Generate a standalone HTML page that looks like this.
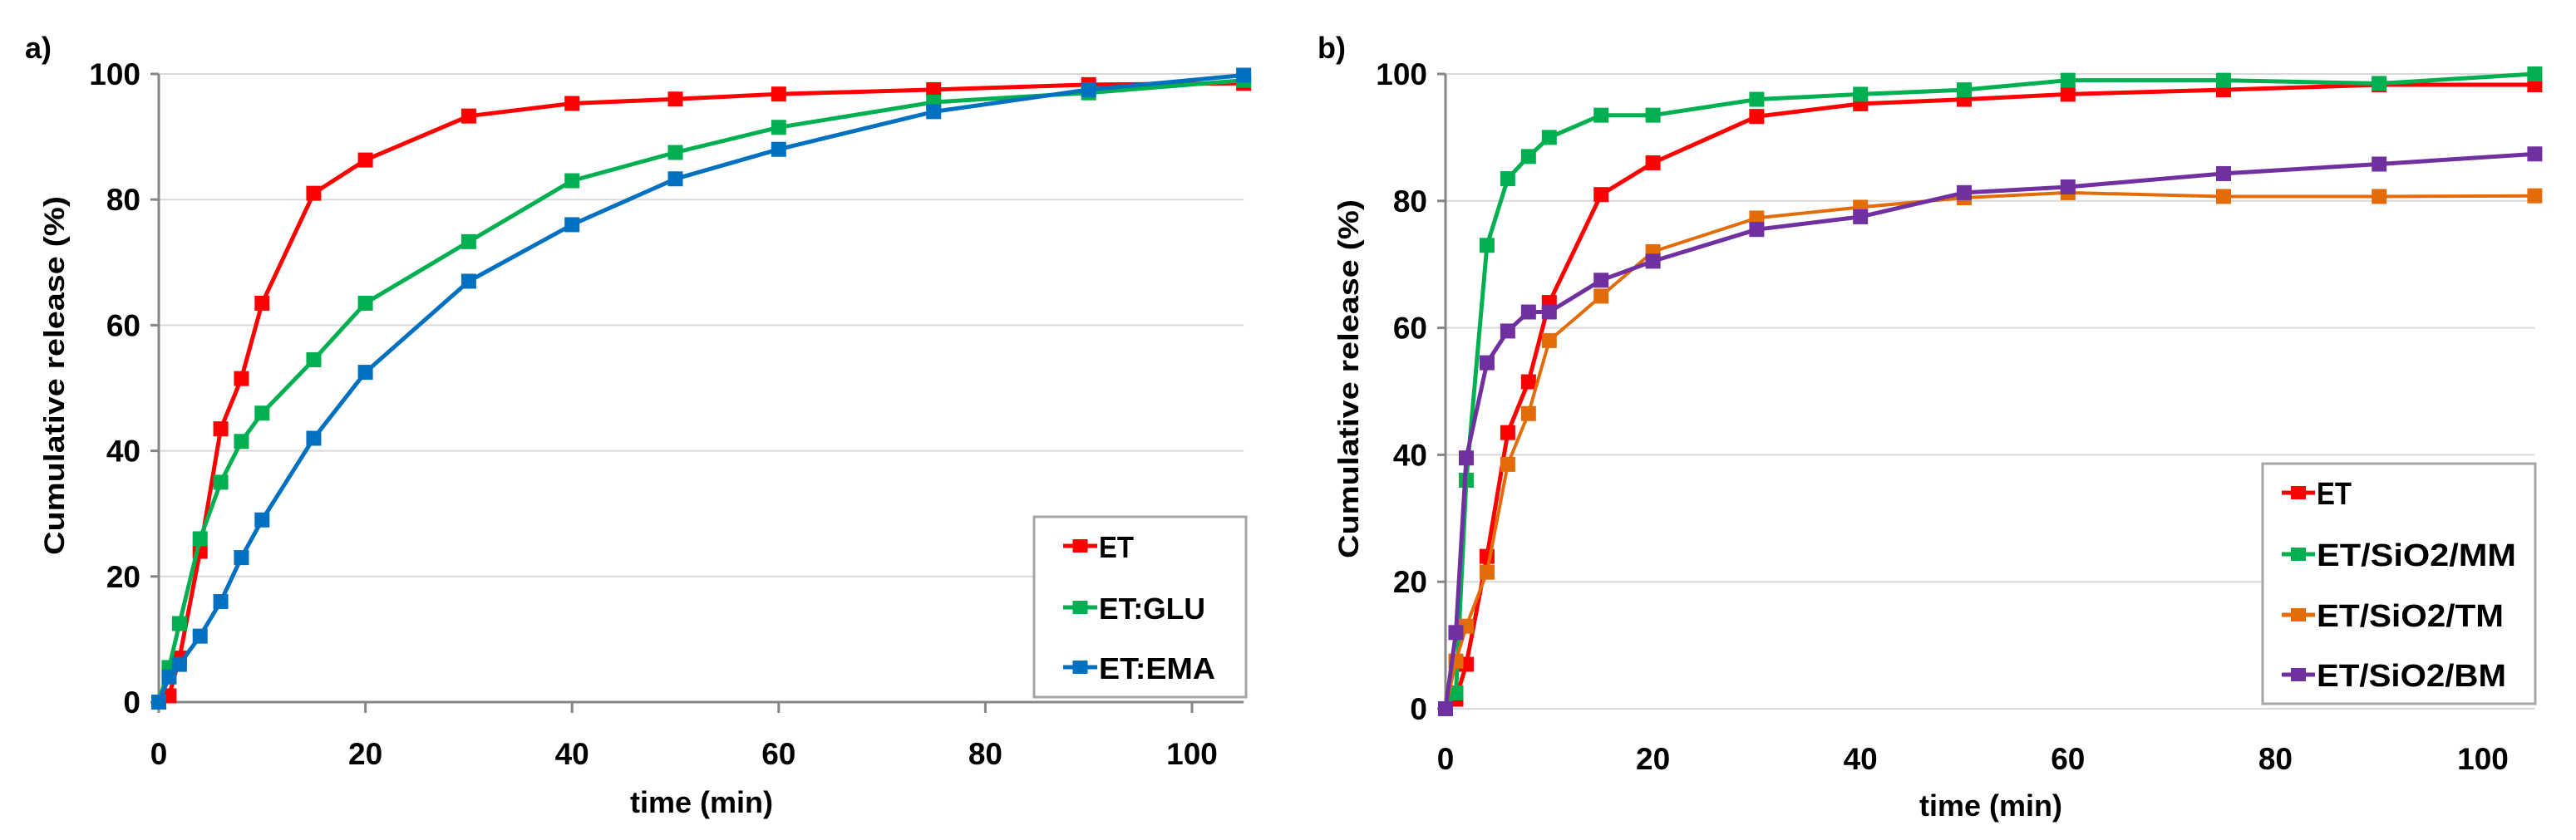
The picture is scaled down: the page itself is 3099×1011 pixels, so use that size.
<!DOCTYPE html>
<html><head><meta charset="utf-8"><style>
html,body{margin:0;padding:0;background:#fff;}
svg{display:block;font-family:"Liberation Sans",sans-serif;font-weight:bold;}
</style></head><body>
<svg id="fig" width="3099" height="1011" viewBox="0 0 3099 1011"></svg>
<script>
const times = [0,1,2,4,6,8,10,15,20,30,40,50,60,75,90,105];
const seriesA_ET  = [0,1,7,24,43.5,51.5,63.5,81,86.3,93.3,95.3,96,96.8,97.5,98.3,98.5];
const seriesA_GLU = [0,5.5,12.5,26,35,41.5,46,54.5,63.5,73.3,83,87.5,91.5,95.5,97,99];
const seriesA_EMA = [0,4,6,10.5,16,23,29,42,52.5,67,76,83.3,88,94,97.5,99.8];
const seriesB_ET  = [0,1.5,7,24,43.5,51.5,64,81,86,93.3,95.3,96,96.8,97.5,98.3,98.3];
const seriesB_MM  = [0,2.5,36,73,83.5,87,90,93.5,93.5,96,96.8,97.5,99,99,98.5,100];
const seriesB_TM  = [0,7.5,13,21.5,38.5,46.5,58,65,72,77.3,79,80.5,81.3,80.7,80.7,80.8];
const seriesB_BM  = [0,12,39.5,54.5,59.5,62.5,62.5,67.5,70.5,75.5,77.5,81.3,82.2,84.3,85.8,87.4];
const xTicks = [0,20,40,60,80,100];
const yTicks = [0,20,40,60,80,100];
const labelsA = ["ET","ET:GLU","ET:EMA"];
const labelsB = ["ET","ET/SiO2/MM","ET/SiO2/TM","ET/SiO2/BM"];

const NS="http://www.w3.org/2000/svg";
const svg=document.getElementById('fig');
function mk(tag,attrs,parent){const e=document.createElementNS(NS,tag);for(const k in attrs)e.setAttribute(k,attrs[k]);(parent||svg).appendChild(e);return e;}

function panel(cfg){
  const g=mk('g',{});
  
  
  const xs=v=>cfg.x0+(v/100)*(cfg.x100-cfg.x0);
  const ys=v=>cfg.y0-(v/100)*(cfg.y0-cfg.y100);
  const xEnd=xs(105);
  yTicks.forEach(t=>{
    if(t>0||!cfg.darkX){
      const l=mk('line',{x1:cfg.x0,x2:xEnd,y1:ys(t),y2:ys(t),stroke:'#d9d9d9','stroke-width':2},g);
      
      
    }
    mk('line',{x1:cfg.x0-10,x2:cfg.x0,y1:ys(t),y2:ys(t),stroke:'#868686','stroke-width':3},g);
    const tx=mk('text',{x:cfg.x0-22,y:ys(t)+13,'text-anchor':'end','font-size':37,fill:'#000'},g);
    tx.textContent=t;
    
    
  });
  const ya=mk('line',{x1:cfg.x0,x2:cfg.x0,y1:cfg.y100,y2:cfg.y0,stroke:'#868686','stroke-width':3},g);
  
  
  if(cfg.darkX){
    const xa=mk('line',{x1:cfg.x0,x2:xEnd,y1:cfg.y0,y2:cfg.y0,stroke:'#868686','stroke-width':3},g);
    
    
  }
  xTicks.forEach(t=>{
    if(cfg.darkX) mk('line',{x1:xs(t),x2:xs(t),y1:cfg.y0,y2:cfg.y0+13,stroke:'#868686','stroke-width':3},g);
    const tx=mk('text',{x:xs(t),y:cfg.tickY,'text-anchor':'middle','font-size':37,fill:'#000'},g);
    tx.textContent=t;
    
    
  });
  cfg.series.forEach((s,i)=>{
    const pts=times.map((t,j)=>xs(t).toFixed(1)+','+ys(s.vals[j]).toFixed(1)).join(' ');
    const pl=mk('polyline',{points:pts,fill:'none',stroke:s.color,'stroke-width':s.w||5,'stroke-linejoin':'round'},g);
    
    
    times.forEach((t,j)=>{
      const r=mk('rect',{x:xs(t)-9,y:ys(s.vals[j])-9,width:18,height:18,fill:s.color},g);
      
      
    });
  });
  const L=cfg.legend;
  const lb=mk('rect',{x:L.x,y:L.y,width:L.w,height:L.h,fill:'#fff',stroke:'#a6a6a6','stroke-width':3},g);
  
  
  cfg.series.forEach((s,i)=>{
    const yy=L.rows[i];
    mk('line',{x1:L.mx1,x2:L.mx2,y1:yy,y2:yy,stroke:s.color,'stroke-width':5},g);
    mk('rect',{x:(L.mx1+L.mx2)/2-9,y:yy-8,width:18,height:16,fill:s.color},g);
    const tx=mk('text',{x:L.tx,y:yy+14,'font-size':L.fs,fill:'#000',textLength:L.tl[i],lengthAdjust:'spacingAndGlyphs'},g);
    tx.textContent=cfg.labels[i];
    
    
  });
  const yt=mk('text',{x:0,y:0,'text-anchor':'middle','font-size':34,fill:'#000',transform:`translate(${cfg.ytX},${cfg.ytY}) rotate(-90)`,textLength:432,lengthAdjust:'spacingAndGlyphs'},g);
  yt.textContent='Cumulative release  (%)';
  
  
  const xt=mk('text',{x:cfg.xtX,y:cfg.xtY,'text-anchor':'middle','font-size':36,fill:'#000'},g);
  xt.textContent='time (min)';
  
  
  const pt=mk('text',{x:cfg.pl[0],y:cfg.pl[1],'font-size':36,fill:'#000'},g);
  pt.textContent=cfg.plabel;
  
  
}

panel({name:'chart-a',x0:191,x100:1434,y0:845,y100:89,darkX:true,tickY:920,
  series:[{key:'et',color:'#ff0000',vals:seriesA_ET},{key:'et-glu',color:'#00b050',vals:seriesA_GLU},{key:'et-ema',color:'#0070c0',vals:seriesA_EMA}],
  labels:labelsA,
  legend:{x:1244,y:622,w:255,h:217,rows:[657,731,803],mx1:1279,mx2:1320,tx:1322,fs:36,tl:[42,128,140]},
  ytX:77,ytY:452,xtX:844,xtY:978,pl:[30,70],plabel:'a)'});
panel({name:'chart-b',x0:1739,x100:2987,y0:853,y100:89,darkX:false,tickY:926,
  series:[{key:'et',color:'#ff0000',vals:seriesB_ET},{key:'et-sio2-mm',color:'#00b050',vals:seriesB_MM},{key:'et-sio2-tm',color:'#e36c09',vals:seriesB_TM,w:4},{key:'et-sio2-bm',color:'#7030a0',vals:seriesB_BM}],
  labels:labelsB,
  legend:{x:2722,y:558,w:328,h:289,rows:[593,667,740,812],mx1:2745,mx2:2785,tx:2787,fs:38,tl:[42,240,225,228]},
  ytX:1634,ytY:456,xtX:2395,xtY:982,pl:[1585,70],plabel:'b)'});
</script>
</body></html>
